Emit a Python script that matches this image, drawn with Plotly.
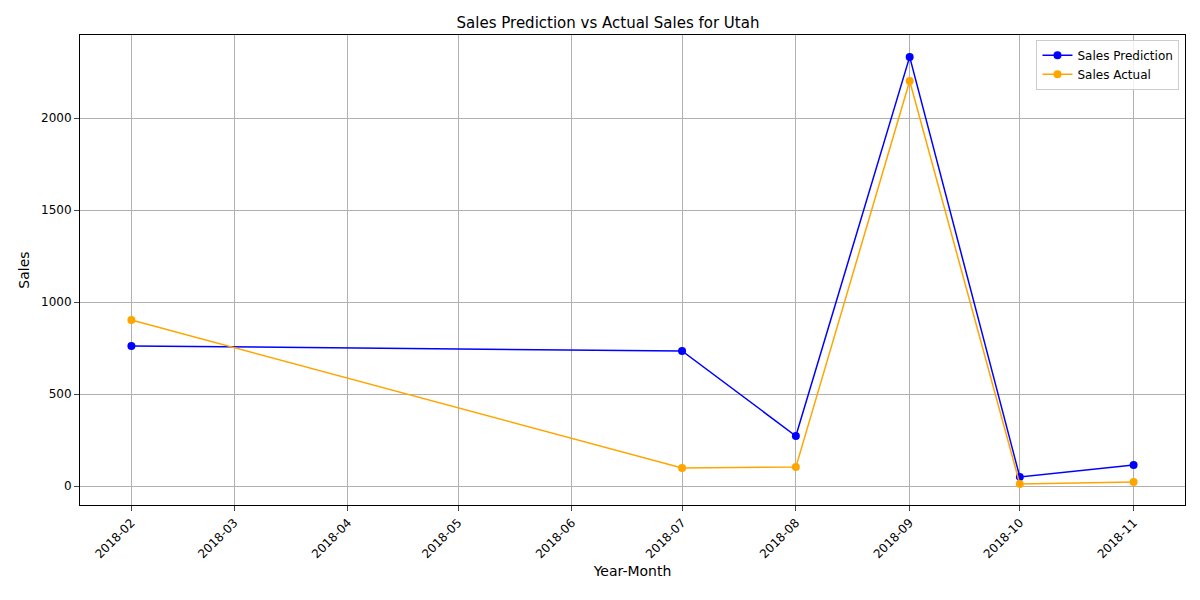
import plotly.graph_objects as go

months = ["2018-02-01", "2018-07-01", "2018-08-01", "2018-09-01", "2018-10-01", "2018-11-01"]
pred = [761, 734, 272, 2332, 49, 114]
actual = [902, 98, 103, 2201, 11, 22]
tick_vals = ["2018-%02d-01" % m for m in range(2, 12)]
tick_text = ["2018-%02d" % m for m in range(2, 12)]

fig = go.Figure()
fig.add_trace(go.Scatter(x=months, y=pred, mode="lines+markers", name="Sales Prediction",
                         line=dict(color="blue", width=1.5), marker=dict(size=8, color="blue")))
fig.add_trace(go.Scatter(x=months, y=actual, mode="lines+markers", name="Sales Actual",
                         line=dict(color="orange", width=1.5), marker=dict(size=8, color="orange")))
fig.update_layout(
    width=1200, height=600, plot_bgcolor="white", paper_bgcolor="white",
    font=dict(family="DejaVu Sans", size=12, color="black"),
    title=dict(text="Sales Prediction vs Actual Sales for Utah", x=0.5, xanchor="center", y=0.985, font=dict(size=15)),
    margin=dict(l=72, r=23, t=27, b=103),
    legend=dict(x=0.995, y=0.99, xanchor="right", yanchor="top", bordercolor="#ccc", borderwidth=1,
                bgcolor="rgba(255,255,255,0.8)", font=dict(size=12)),
    xaxis=dict(title=dict(text="Year-Month", standoff=5), type="date", range=["2018-01-18", "2018-11-15"],
               tickvals=tick_vals, ticktext=tick_text, tickangle=-45, showgrid=True, gridcolor="#b0b0b0",
               showline=True, linecolor="black", mirror=True, ticks="outside", zeroline=False),
    yaxis=dict(title=dict(text="Sales", standoff=8), range=[-103, 2451], tickvals=[0, 500, 1000, 1500, 2000],
               showgrid=True, gridcolor="#b0b0b0", showline=True, linecolor="black", mirror=True,
               ticks="outside", zeroline=False),
)
fig.write_html("out.html")
